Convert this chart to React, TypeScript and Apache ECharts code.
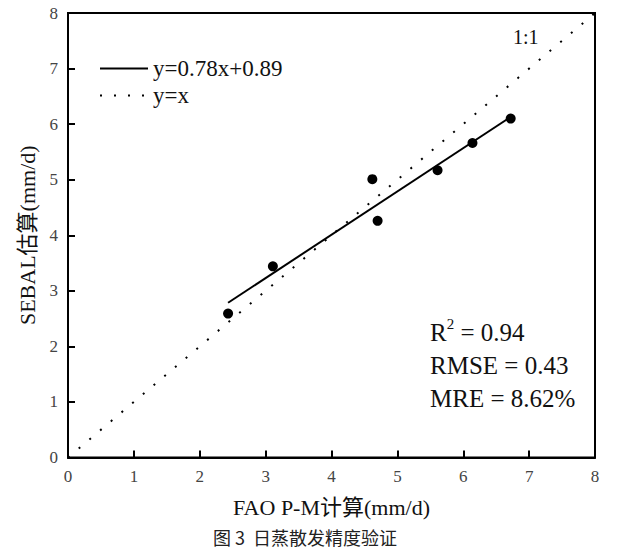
import React, { useEffect, useRef } from "react";
import * as echarts from "echarts";

const OBS_X = [2.43, 3.11, 4.62, 4.7, 5.61, 6.14, 6.72];
const OBS_Y = [2.59, 3.44, 5.01, 4.26, 5.17, 5.66, 6.1];
const FIT_X = [2.43, 6.72];
const FIT_Y = [2.785, 6.13];
const ONE_X = [0, 8];
const ONE_Y = [0, 8];
const TICKS = [0, 1, 2, 3, 4, 5, 6, 7, 8];
const FIT_NAME = "y=0.78x+0.89";
const ONE_NAME = "y=x";

const SERIF = "'Liberation Serif', 'Times New Roman', 'Noto Sans CJK SC', serif";

export default function App() {
  const ref = useRef<HTMLDivElement>(null);
  useEffect(() => {
    if (!ref.current) return;
    const chart = echarts.init(ref.current, null, { renderer: "svg" });
    const axisCommon = {
      type: "value",
      min: TICKS[0],
      max: TICKS[TICKS.length - 1],
      interval: 1,
      axisLine: { show: true, lineStyle: { color: "#000", width: 2 } },
      axisTick: { show: true, inside: true, length: 7, lineStyle: { color: "#000", width: 2 } },
      axisLabel: { color: "#444", fontSize: 17, fontFamily: SERIF, margin: 10 },
      splitLine: { show: false },
      nameLocation: "middle",
      nameTextStyle: { color: "#111", fontSize: 22, fontFamily: SERIF },
    };
    chart.setOption({
      animation: false,
      backgroundColor: "#fff",
      grid: {
        left: 68,
        right: 46,
        top: 13,
        bottom: 555 - 457.5,
        show: true,
        borderColor: "#000",
        borderWidth: 2,
        containLabel: false,
      },
      xAxis: { ...axisCommon, name: "FAO P-M计算(mm/d)", nameGap: 39 },
      yAxis: { ...axisCommon, name: "SEBAL估算(mm/d)", nameGap: 24 },
      legend: {
        show: true,
        orient: "vertical",
        left: 94,
        top: 52,
        itemWidth: 48,
        itemHeight: 14,
        itemGap: 4,
        itemStyle: { opacity: 0 },
        data: [FIT_NAME, ONE_NAME],
        textStyle: { color: "#111", fontSize: 23, fontFamily: SERIF, lineHeight: 22 },
      },
      series: [
        {
          name: ONE_NAME,
          type: "line",
          data: ONE_X.map((x, i) => [x, ONE_Y[i]]),
          symbol: "none",
          itemStyle: { color: "#000" },
          lineStyle: { color: "#000", width: 2, type: [2, 12] },
          z: 2,
        },
        {
          name: FIT_NAME,
          type: "line",
          data: FIT_X.map((x, i) => [x, FIT_Y[i]]),
          symbol: "none",
          itemStyle: { color: "#000" },
          lineStyle: { color: "#000", width: 2 },
          z: 3,
        },
        {
          name: "obs",
          type: "scatter",
          data: OBS_X.map((x, i) => [x, OBS_Y[i]]),
          symbol: "circle",
          symbolSize: 10,
          itemStyle: { color: "#000", opacity: 1 },
          z: 4,
        },
      ],
      graphic: [
        {
          type: "text",
          left: 513,
          top: 27,
          style: { text: "1:1", fontSize: 20, fontFamily: SERIF, fill: "#111" },
        },
        {
          type: "text",
          left: 430,
          top: 316,
          style: {
            text: "{a|R}{s|2}{a| = 0.94}\n{a|RMSE = 0.43}\n{a|MRE = 8.62%}",
            fontFamily: SERIF,
            fill: "#111",
            rich: {
              a: { fontSize: 25, fontFamily: SERIF, fill: "#111", lineHeight: 33 },
              s: { fontSize: 15, fontFamily: SERIF, fill: "#111", verticalAlign: "top", lineHeight: 33, padding: [0, 0, 8, 0] },
            },
          },
        },
        {
          type: "text",
          left: 213,
          top: 528,
          style: { text: "图 3  日蒸散发精度验证", fontSize: 18, fontFamily: "'Noto Sans CJK SC', sans-serif", fill: "#222" },
        },
      ],
    });
    return () => chart.dispose();
  }, []);
  return <div ref={ref} style={{ width: 641, height: 555, position: "absolute", left: 0, top: 0 }} />;
}
